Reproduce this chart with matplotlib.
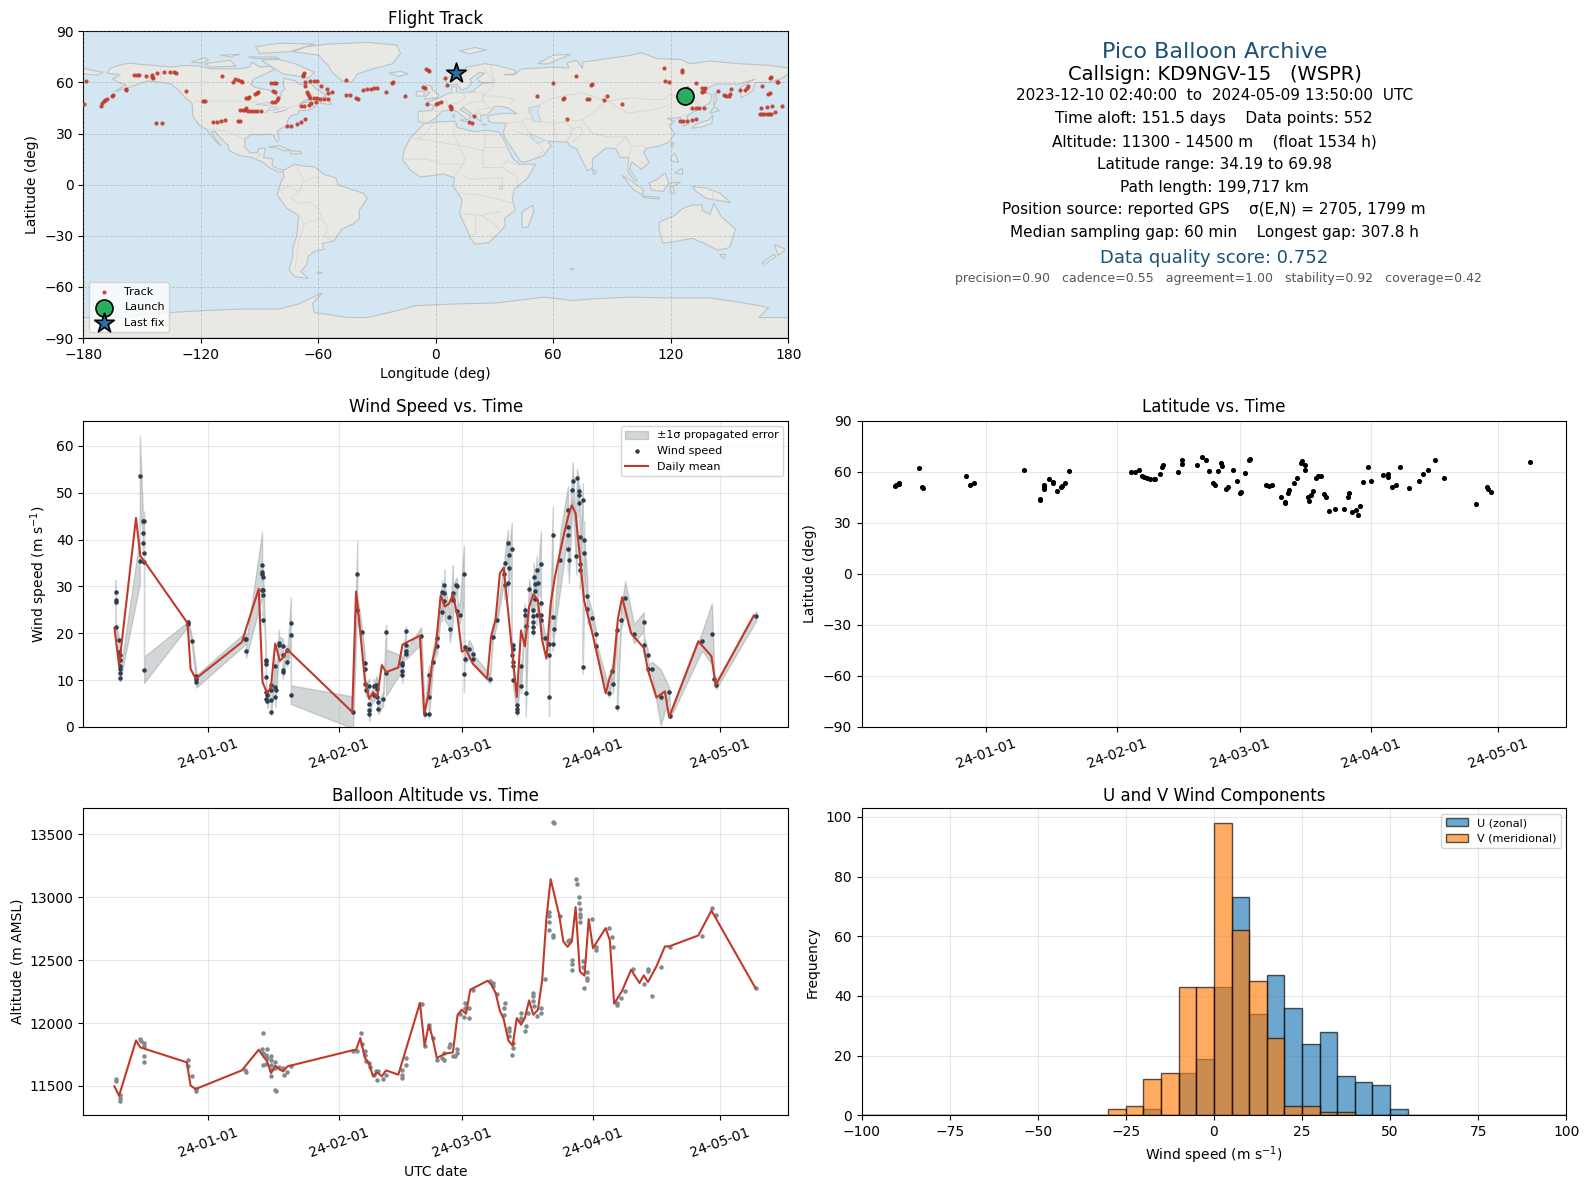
import datetime as dt

import numpy as np
import matplotlib
matplotlib.use("Agg")
import matplotlib.pyplot as plt
import matplotlib.dates as mdates


# ---- values ----
# all times are days relative to 2024-01-01

track_lon = [-178.8, -179.5, -171, -170.4, -169.6, -168.7, -168, -165, -165.4, -158, -158.3, -154, -152.8, -151.8,
             -148, -145, -144.6, -144.8, -142.4, -139, -135.6, -133.5, -132.7, -127.7, -119, -117.8, -142.9, -140,
             -113.7, -111.8, -109.6, -107.7, -100.9, -100, -109, -103.8, -102.4, -100.9, -99.7, -99, -97, -96, -95.4,
             -92.2, -91.5, -91, -100, -98.6, -97.4, -96.7, -96, -94.3, -92.9, -91.2, -89.5, -84.3, -82.4, -81.4,
             -83, -82, -83.6, -82.1, -80.9, -80.4, -67.6, -67.2, -68, -67, -66.7, -64, -62.3, -60.6, -65.7, -65.2,
             -64.8, -64, -62.3, -60.6, -59.2, -57.3, -55.1, -58.5, -55.4, -54.9, -53, -69, -67.2, -65, -63.5, -61.4,
             -75.8, -73.9, -70.8, -68.6, -66.7, -46, -45.7, -43.8, -40.6, -39.7, -37.3, -35.3, -33.2, -31.7, -30,
             -25.5, -21.8, -22.3, -15.6, -5.2, -4.2, -3.5, -6.6, -5.7, -4.5, 0.1, 1.3, 2.8, 4.7, 5.6, 7.1, 7.6, 7.8,
             19.6, 17.2, 18.4, 51.7, 59.9, 65.7, 65.2, 67.1, 71.5, 79.2, 79.9, 77.3, 78, 85.9, 87.6, 95.1, 116.6,
             125.5, 125.7, 116.8, 119.2, 124.5, 126.2, 128.4, 131, 133, 131, 133, 134.6, 137, 128.2, 132.7, 135.8,
             137.7, 135.8, 137, 144.3, 150.8, 147, 148.4, 149.8, 150.3, 155.4, 158, 159.5, 159, 166.7, 171.3, 170.6,
             174.9, 174.4, 169.6, 170.6, 165.3, 166.5, 167.7, 169, 170, 171, 166.2, 168.9, 171.8, 176.8, 173.2]
track_lat = [60.7, 47.2, 46.4, 47.8, 49, 49.9, 50.3, 52.5, 52, 56.2, 55.8, 64.2, 64.2, 64.2,
             63.8, 63.4, 62.3, 64.4, 65.4, 66, 66, 66.4, 65.8, 55.2, 49.2, 49, 36.1, 36.1,
             36.7, 37, 37.2, 37.8, 37.2, 37.2, 63.6, 60.3, 61.9, 61.3, 60.9, 60.1, 50.7, 51.1, 51.3,
             53.3, 54, 54.6, 43.7, 43.7, 43.9, 44.7, 43.3, 43.3, 43.1, 43.1, 43.1, 59.5, 59.5, 59.5,
             55, 54.6, 48.4, 48.8, 49.7, 51.1, 64.4, 65.4, 63.8, 60.3, 57.8, 60.7, 60.7, 60.7, 54.6, 53.3,
             52.1, 50.9, 50.7, 50.7, 50.5, 50.1, 50.1, 57.8, 56, 54, 54.2, 46, 46.2, 47, 47.8, 48.4,
             34.3, 34.3, 35.5, 36.8, 38.8, 61.7, 52.5, 52.9, 50.7, 50.1, 55.4, 56, 56.4, 56.6, 57,
             54.2, 60, 59.9, 51.9, 67.7, 67, 66.6, 57.2, 56.6, 47.2, 47.2, 47.8, 48.4, 62.4, 58.5, 46.4, 45.4, 44.5,
             40.2, 36.7, 36.1, 51.9, 59.5, 50.7, 50.5, 38.4, 63.6, 58.7, 58.9, 50.1, 50.5, 49.7, 51.9, 47.2, 68.3,
             67, 66.4, 60.7, 60.1, 37.2, 37.2, 37.2, 38.2, 38.6, 44.9, 44.9, 44.9, 44.9, 56.6, 59.9, 56.6,
             56.6, 54.6, 55.2, 55.2, 56, 52.7, 51.9, 52.1, 53.3, 55.4, 55.8, 58.1, 56.6, 58.1, 63, 62.3,
             60.3, 60.1, 53, 53.7, 41.7, 41.7, 41.7, 41.7, 41.7, 41.7, 44.9, 45.4, 46, 46.4, 42.5]
launch_lon, launch_lat = 127.2, 52.0
last_lon, last_lat = 10.1, 65.6

wind_day = [-21.8, -21.8, -21.8, -21.8, -21.1, -21.1, -20.9, -20.9, -20.8, -20.8, -20.8, -20.8,
            -16.1, -16.1, -15.4, -15.1, -15.4, -15.4, -15.1, -15.1, -15.1,
            -4.7, -4.7, -3.8, -2.8, -2.8, -2.8, 8.7, 9, 9,
            12.8, 12.8, 12.8, 13, 12.8, 13.1, 13, 13, 13.7, 13.7, 13.7, 13.7, 13.8, 14, 13.8, 14,
            14.9, 14.9, 14.9, 14.9, 15.9, 15.9, 16, 15.9, 16.8, 16.8, 17.7, 17.7, 17.7, 17.7, 18.7, 18.7, 19.6, 19.6, 19.6,
            34.3, 35.3, 35.3, 36.4, 37.1, 37.1, 37.1, 37.4, 38.1, 38.1, 38.1, 38.1, 39.2, 39.2, 39.8, 40, 40, 40.2, 40.2,
            41.4, 42.1, 42.1, 45.9, 45.9, 45.9, 45.9, 46.8, 46.8, 46.8, 46.8, 50.4,
            51.2, 52.2, 52.2, 52.2, 53.1, 54.1, 54.1, 55.3, 55.3, 55.9, 55.9, 55.9, 56.9, 57.2, 57.9, 57.9, 58.7, 58.9, 58.9, 59.5,
            60.5, 60.7, 60.7, 60.5, 61.7, 62.6, 62.6, 66.6, 67.3, 68.3, 69.9, 70.1, 70.1, 70.9, 71.1, 71.1, 70.9, 71.8,
            72.1, 72.1, 71.8, 72.1, 72.1, 72.1, 73, 73, 73, 74, 74, 74.9, 74.9, 75.1, 75.1,
            75.9, 76.8, 76.8, 76.8, 76.8, 76.8, 77, 77.2, 77.2, 77.2, 77.7, 78, 77.7, 78.7, 78.7, 78.7, 78.7,
            79.6, 80.6, 80.7, 80.6, 81.5, 81.5, 81.8, 81.5, 83.3, 85.1, 85.1, 85.1, 85.3, 85.1,
            86.1, 86.2, 87.2, 87.6, 87.8, 88.6, 87.6, 87.9, 87.1, 87.9, 87.9, 88.9, 88.9, 88.6, 89.7, 89.7, 90.8, 91.7, 91.7,
            94.8, 95.5, 95.7, 96.7, 96.7, 97.6, 98.6, 100.7, 103, 103, 104, 104, 105, 107, 109, 109.2, 116.8, 119.1, 119.7, 120.1, 129.6]
wind_speed = [28.8, 27, 26.7, 21.4, 18.6, 16, 15.3, 14.2, 13.1, 12.4, 11.6, 10.5,
              35.5, 53.6, 44, 44, 41.4, 39.3, 37.2, 35.3, 12.2,
              22, 22.4, 18.4, 10.8, 10.2, 9.7, 18.8, 18.8, 16.3,
              34.6, 33, 32.7, 32, 29.3, 29.3, 28.2, 22.9, 14.4, 14, 13.5, 10.7, 7.5, 6.8, 6, 5.5,
              8.9, 7.8, 5.8, 3.3, 13.1, 8.5, 8, 6.3, 18, 17.4, 17.3, 15.3, 12.2, 11.8, 16.5, 13.9, 22.2, 19.7, 6.9,
              3.1, 32.7, 25, 20.3, 13.7, 12.4, 9.2, 7.8, 8.8, 5, 3.6, 2.8, 8.8, 6.8, 8.9, 8.2, 6.4, 5.3, 3.9,
              6, 20.2, 11.6, 13.6, 13.2, 12, 11.2, 20.5, 17.6, 16.3, 15.5, 19.5,
              2.8, 11.2, 6.5, 2.8, 13.9, 19, 17.2, 28.8, 24.5, 30.2, 28.6, 26.9, 23.5, 21, 28.6, 27, 30.4, 30, 24.8, 24,
              32.7, 17, 14.6, 11.4, 16.6, 15.6, 14.6, 10.3, 19.2, 22.9, 32.7, 30.2, 35, 39.3, 36.7, 34, 30.8, 38,
              17.4, 16.7, 15.3, 13.9, 13.1, 10.1, 4.6, 3.9, 3.3, 13.1, 8.7, 24.9, 24, 21.5, 7.3,
              29.5, 24.9, 23.7, 22.4, 21.3, 20.3, 32, 30.6, 29.1, 27.4, 33.5, 30.8, 23.8, 34.8, 26.5, 24, 22.9,
              19, 17.8, 15.3, 6.3, 41, 23.5, 21, 17.8, 35.7, 46.4, 40.9, 38, 35.7, 42.6,
              50.5, 52.4, 53.1, 50.3, 49.6, 48.5, 47.8, 40.5, 36.5, 34.8, 33.5, 39.9, 37.1, 12.9, 28, 25.1, 23.2, 19.9, 17.3,
              7.3, 12, 9.2, 20.6, 4.3, 22.9, 27.6, 19.9, 22.5, 17.6, 15.3, 12.4, 12.4, 6.3, 7.5, 2.3, 18.3, 19.9, 10.3, 8.9, 23.7]
wind_sigma = [2.5, 2, 2, 1, 1, 1.2, 1, 1, 1, 1, 0.8, 0.8,
              5, 8.6, 2, 2, 1.5, 1.5, 1, 1, 2.8,
              0.5, 0.5, 1, 1.5, 1.5, 1.3, 1.3, 1.3, 1.5,
              7, 3.5, 3, 2.5, 2, 2, 1.5, 1, 1, 1, 1, 1, 1.2, 1, 1, 1.5,
              1, 1, 1, 0.8, 1.5, 1, 1.5, 2, 2.8, 2, 1.5, 1.5, 1, 1.5, 1, 1, 5.5, 2, 2,
              3.4, 7, 3, 1, 1.5, 1.2, 1.2, 1.5, 1.5, 2, 1.5, 1.5, 1.5, 1.5, 2, 2, 1.5, 1.5, 1.2,
              1.5, 1.6, 5, 1.5, 1.5, 2.5, 1.5, 1, 1, 1, 1, 1.8,
              1, 2, 3, 1, 2, 2, 2, 2.5, 2, 2, 5, 4, 2, 3, 6, 3, 1.5, 1.5, 2, 2,
              6, 1.5, 1, 4, 2, 1.5, 1, 1, 1, 1, 2, 3, 1.5, 2.8, 3, 3, 3, 5.6,
              1, 1, 1, 1, 1, 1.5, 1.5, 1, 1, 1.5, 1.5, 1.5, 1.5, 1.5, 5,
              2, 1.5, 1.5, 1.5, 1.5, 1, 3, 2, 2, 2, 3, 2.5, 2, 7, 2, 2, 1.5,
              1, 1.5, 1, 4, 6, 1.5, 1.5, 1.5, 6, 5, 4, 5, 5, 5,
              4, 4, 2, 3, 2, 3.5, 3, 3, 4, 3, 4, 4, 4, 1.5, 3, 3, 1.5, 1, 1,
              1, 1.5, 2, 1.5, 1, 2, 3.5, 2, 2, 2, 1, 1, 1.5, 6, 1, 0.5, 2, 6.5, 1, 0.8, 1]

mean_day = [-22.1, -21, -17, -16, -5, -4.7, -4.1, -2.9, 8, 12, 12.9, 14, 14.9, 15.9, 17, 17.8, 18.8, 34.1, 35, 35.5,
            37.1, 38.1, 39, 40, 41.1, 42.1, 45, 46, 50.1, 51.1, 52.1, 53, 53.9, 55, 56, 57, 57.9, 59, 60, 61, 62.6,
            66, 66.9, 68, 69, 69.9, 73, 74, 74.9, 75.9, 76.9, 78, 79, 80, 81, 82, 83.9, 85.1, 86, 86.9, 88.9, 91,
            94, 95, 95.8, 96.9, 97.9, 100, 103, 104, 106, 108, 109, 115.9, 119, 120, 129]
mean_speed = [21.2, 13.1, 44.6, 36.6, 22.4, 20.6, 12.4, 10.3, 18.1, 29.5, 9.6, 7.2, 8.5, 17.8, 14.1, 14.9, 16.5, 3.2, 28.9, 24.9,
              10, 6, 7.4, 6.4, 13.2, 11.7, 12.7, 17.6, 19.5, 2.8, 6.8, 13.9, 17.4, 28.1, 25.7, 26.3, 28.4, 23.5, 16.1, 16.5, 13.5,
              10.3, 19.2, 23.1, 32.8, 34, 6.4, 20.6, 17.2, 25.6, 28.3, 27, 18.5, 14.6, 26.3, 32, 40.2, 44.8, 47.3, 45.6, 27, 19.5,
              7.2, 10.7, 12.4, 23.1, 27.7, 20, 16.9, 12.1, 6.3, 7.6, 2.1, 18.3, 15.1, 8.9, 23.8]

lat_day = [-21.5, -21.3, -20.7, -20.7, -15.9, -15.2, -15, -4.7, -3.7, -2.9, 8.9, 12.8, 12.7, 13.7, 13.8, 13.7, 14.9, 15.8, 15.9, 16.7, 17.6, 17.9, 18.7, 19.5,
           34.3, 35.2, 36.1, 36.9, 37.4, 38, 38.7, 39.7, 40, 41.1, 41.7, 41.9, 45.4, 46.4, 46.4, 49.9, 51.1, 51.9, 52.8, 53.7, 54, 54.9, 55.5, 55.8,
           56.7, 57.3, 58.4, 59.3, 60.2, 60, 61.1, 62.1, 62.4, 66.2, 66.8, 67.7, 69.7, 70.6, 70.7, 71.3, 71.7, 72.7, 73.5, 74.4, 74.6, 75.3, 75.5,
           76.1, 76.3, 76.9, 77.4, 77.9, 78.4, 79.1, 80, 80.3, 81.1, 82.6, 84.5, 85.5, 85.7, 86.6, 87.4, 88, 88.4, 89, 90.2, 91, 93.9, 94.9, 95.1,
           95.9, 96.8, 97.8, 99.9, 102.3, 103.3, 104.4, 106.2, 108.3, 115.8, 118.4, 118.7, 119.3, 128.7]
lat_val = [51.7, 52.1, 52.7, 53.1, 62, 51.1, 50.5, 57.6, 51.9, 53.5, 60.8, 43.8, 43.6, 49.5, 51.1, 52.1, 55.5, 53.9, 53.5, 48.4, 50.7, 51.7, 53.1, 60.6,
           59.6, 59.6, 60.8, 57.6, 56.8, 56.1, 55.9, 55.9, 55.9, 58.4, 62.6, 63.7, 59.8, 66.9, 64.5, 63.7, 68.5, 66.9, 60.4, 53.1, 52.3, 60.6, 64.9, 63.4,
           49.5, 51.1, 61, 54.3, 48.2, 47.6, 59.2, 66.9, 67.5, 51.9, 51.5, 52.1, 45.2, 42.2, 41.6, 47.2, 49.1, 53.1, 56.4, 64.9, 66.5, 63.7, 60.8,
           45.2, 42.8, 46.2, 48.8, 56.1, 57.2, 57.2, 46.8, 44.8, 36.9, 38.3, 37.9, 45.2, 47.2, 36.3, 37.3, 34.3, 39.5, 53.7, 62.6, 54.7, 58, 58.6, 56.6,
           50.7, 51.9, 62.6, 50.1, 54.7, 58.6, 60.8, 66.7, 56.1, 40.7, 50.7, 49.5, 47.8, 65.5]

alt_day = [-21.8, -21.8, -20.9, -20.8, -20.8, -16.1, -15.8, -15.2, -15.1, -15.1, -15.1, -4.7, -4.7, -3.8, -2.8, -2.8, 8.7, 9,
           13, 12.8, 14, 13, 13.8, 14, 14.9, 14.9, 13.8, 13, 15.9, 14.9, 14.9, 15.9, 14.9, 16.8, 17.7, 18.7, 19.6, 18, 15.9, 16.2,
           34.3, 35.3, 36.2, 36.4, 37.1, 37.1, 37.4, 38.1, 38.2, 39.2, 39.8, 40.2, 40, 41.4, 42.1, 45.9, 45.9, 45.9, 46.8, 46.8,
           50.1, 50.5, 51.3, 52.3, 52.2, 53.1, 54.1, 55.3, 55.9, 55.9, 56.9, 57.2, 57.9, 58.5, 58.9, 58.9, 59.5, 60.5, 60.7, 60.7, 61.7, 61.7, 62.6,
           66.6, 67.3, 67.3, 68.3, 70.2, 69.9, 69.9, 71.1, 71.1, 71.1, 72.1, 72.1, 71.8, 74, 74, 74, 75.1, 74.9, 75.6,
           76.8, 76.8, 76.8, 77, 77.7, 78.7, 78.7, 79.6, 80.6, 80.6, 80.7, 80.6, 81.5, 81.5, 81.8, 81.5, 83.3, 85.1, 85.3, 86.1, 86.1, 86.1,
           87.1, 87.2, 87.7, 87.7, 87.9, 87.9, 87.9, 87.9, 88.6, 88.6, 88.9, 89.7, 89.7, 89.7, 90.8, 91.7, 91.7, 94.8, 95.5, 95.7,
           96.7, 96.7, 97.6, 98.6, 100.5, 103, 104, 104, 105, 107.1, 109.2, 116.8, 119.1, 120.1, 129.6]
alt_val = [11556, 11542, 11431, 11405, 11378, 11873, 11855, 11841, 11820, 11738, 11691, 11706, 11661, 11582, 11476, 11460, 11624, 11614,
           11921, 11794, 11794, 11762, 11743, 11722, 11735, 11709, 11677, 11667, 11688, 11669, 11630, 11640, 11579, 11651, 11640, 11608, 11661, 11590, 11471, 11460,
           11775, 11775, 11921, 11833, 11775, 11743, 11696, 11683, 11648, 11590, 11616, 11622, 11550, 11556, 11590, 11630, 11587, 11561, 11722, 11664,
           12154, 12154, 11818, 11987, 11960, 11881, 11709, 11722, 11762, 11709, 11810, 11833, 11741, 11735, 11794, 11762, 12074, 12048, 12159, 12119, 12119, 12042, 12265,
           12331, 12318, 12291, 12230, 12159, 12119, 12066, 11963, 11934, 11894, 11841, 11802, 11746, 12079, 12040, 12021, 11974, 11934, 12079,
           12238, 12212, 12172, 12132, 12053, 12119, 12079, 12352, 12881, 12847, 12799, 12738, 12701, 12683, 13588, 13598, 12849, 12648, 12661, 12500, 12471, 12421,
           13143, 13103, 13000, 12953, 12905, 12868, 12841, 12799, 12490, 12445, 12278, 12405, 12357, 12339, 12826, 12603, 12580, 12754, 12683, 12603,
           12159, 12146, 12199, 12257, 12429, 12307, 12429, 12410, 12214, 12445, 12601, 12691, 12913, 12860, 12278]

alt_mean_day = [-22.1, -21, -17, -16, -5, -4.1, -2.9, 8, 12, 12.9, 14, 14.9, 15.9, 17, 17.8, 18.8, 34.1, 35, 36, 37.1, 38.1, 39, 40, 41.1, 42.1, 45,
                50.1, 51.2, 52.2, 53.1, 54.1, 56, 57.9, 59, 60, 61, 62, 66.1, 67, 68, 69, 69.9, 71, 72, 73, 74, 74.9, 75.9, 76.9, 78, 79, 80, 81,
                83, 84, 85, 86, 86.9, 87.9, 89, 90, 91, 94, 95, 96, 97.9, 100, 102, 103, 104, 106, 108, 109, 115.9, 119, 129.4]
alt_mean = [11497, 11423, 11862, 11807, 11688, 11503, 11476, 11624, 11788, 11743, 11696, 11603, 11661, 11630, 11616, 11656, 11783, 11788, 11881, 11722, 11677, 11577, 11608, 11577, 11624, 11590,
            12159, 11820, 11987, 11881, 11722, 11757, 11767, 12066, 12106, 12074, 12265, 12336, 12304, 12238, 12098, 12032, 11862, 11820, 12040, 11987, 12040, 12180, 12066, 12106, 12344, 12833, 13143,
            12860, 12648, 12606, 12648, 12921, 12410, 12376, 12826, 12595, 12754, 12656, 12154, 12257, 12423, 12318, 12379, 12326, 12450, 12609, 12609, 12696, 12894, 12278]

bin_edges = np.arange(-100, 101, 5)
u_counts = [0] * 16 + [2, 0, 14, 19, 43, 73, 34, 47, 36, 24, 28, 13, 11, 10, 2] + [0] * 9
v_counts = [0] * 14 + [2, 3, 12, 14, 43, 43, 98, 62, 45, 26, 3, 3, 1, 1] + [0] * 12

info_lines = ["Pico Balloon Archive",
              "Callsign: KD9NGV-15   (WSPR)",
              "2023-12-10 02:40:00  to  2024-05-09 13:50:00  UTC",
              "Time aloft: 151.5 days    Data points: 552",
              "Altitude: 11300 - 14500 m    (float 1534 h)",
              "Latitude range: 34.19 to 69.98",
              "Path length: 199,717 km",
              "Position source: reported GPS    σ(E,N) = 2705, 1799 m",
              "Median sampling gap: 60 min    Longest gap: 307.8 h",
              "Data quality score: 0.752",
              "precision=0.90   cadence=0.55   agreement=1.00   stability=0.92   coverage=0.42"]

# rough coastlines, lon/lat
land_polys = [
    [(-168,65.5),(-166,68.3),(-162,70),(-156.5,71.3),(-150,70.5),(-141,69.7),(-135,69),(-128,70),(-120,69.5),(-115,68),(-108,68),(-100,68),(-95,69),(-94,72),(-90,69),(-85,69.5),(-82,68),(-87,65),(-93,62),(-94.5,59),(-92,57),(-85,55.5),(-82,53),(-80,51.2),(-79,52),(-79,54.5),(-77,56),(-78,59),(-77.5,62.4),(-72,61),(-70,59),(-66,58.5),(-64.5,60.3),(-61,56),(-56,52.5),(-60,50),(-66,50),(-70,47),(-65,49),(-64,46.5),(-61,46),(-65,43.7),(-70,43.5),(-70,41.7),(-74,40.5),(-76,37),(-75.5,35.3),(-81,31.5),(-80,26.5),(-81,25),(-83,29),(-85,29.7),(-90,29.2),(-94,29.5),(-97.5,27),(-97.7,22.5),(-95,18.7),(-91,18.7),(-90.5,21),(-87,21.5),(-88,16),(-83.3,15),(-83.6,11),(-80,9),(-77.5,8.7),(-78,7.5),(-80.5,7.5),(-85,10),(-88,13),(-94,16),(-100,17),(-105.5,20),(-106,23),(-110,27.5),(-113,31.5),(-114.7,31),(-112,26),(-110,23),(-112,25),(-115,29),(-117,32.5),(-120.5,34.5),(-124,40),(-124.5,48),(-128,51),(-131,55),(-135,59),(-140,60),(-147,61),(-152,59),(-158,56.5),(-164,54.7),(-158,58.5),(-162,60),(-165,62),(-161,64.5)],
    [(-77.5,8.7),(-72,12),(-68,11),(-62,10.5),(-57,6),(-51,4),(-50,0),(-44,-2.5),(-37,-5),(-35,-8),(-39,-15),(-39,-20),(-42,-23),(-48,-26),(-52,-33),(-58,-34.5),(-57,-38),(-62,-39),(-65,-42),(-66,-47),(-69,-51),(-65,-55),(-72,-54),(-75,-50),(-73,-42),(-73,-37),(-71,-30),(-70,-18),(-76,-14),(-81,-6),(-80,-2),(-79,2),(-77.5,4),(-78,7.5)],
    [(-73,78),(-66,81),(-55,82.5),(-35,83.5),(-20,82),(-18,77),(-22,71),(-32,68),(-40,65),(-43,60),(-48,61),(-53,66),(-55,70),(-60,76)],
    [(-6,35.8),(2,36.8),(10,37.3),(11,33.5),(20,31),(25,32),(32,31),(34,28),(37,21),(39.5,15),(43,12),(51,12),(47,4),(40,-3),(39,-8),(40.5,-15),(35,-20),(35.5,-24),(32.5,-28),(27,-34),(20,-35),(18,-32),(14.5,-23),(12,-17),(13.5,-9),(9,-1),(9.5,4),(4,6.3),(-4,5),(-8,4.5),(-13,8.5),(-17,14.7),(-16,21),(-13,27.5),(-9,32)],
    [(-9,37),(-9,43),(-2,43.5),(-1,46),(-4.5,48.5),(2,51),(6,53.5),(8.5,54),(8,57),(10.5,57.5),(10.5,54),(14,54),(19,54.5),(21,57),(24,59.5),(30,60),(23,60),(21,62),(25,65.5),(22,65.8),(17.5,62),(18.5,60),(16,56.5),(13,55.5),(11,59),(6,58),(5,62),(12,66),(16,69),(25,71),(31,70),(41,67),(40,65),(35,64.5),(40,64.5),(44,68),(54,68.5),(60,69),(68,68.5),(67,71.5),(72,73),(75,68),(75,72),(85,73.5),(100,76),(105,77.5),(113,74),(125,73.5),(130,71),(140,72.5),(155,71),(170,70),(180,68.5),(180,65),(177,62.5),(170,60),(163,60),(162,55),(156,51),(155.5,57),(163,62),(155,59),(143,59),(135,54.5),(141,53),(140,48),(132,43),(128,40),(129.5,36),(126.5,34.5),(126,37),(125,39.5),(121,39),(118,39),(122,37),(119,35),(122,30),(119,25),(114,22.5),(108,21.5),(106,19),(109,13),(105,9),(100,13.5),(99,9),(103,2),(101,3),(98,8),(98.5,16),(94,16),(92,21),(87,21.5),(80,15),(80,10),(77.5,8),(73,18),(72,21),(69,22.5),(67,25),(57,25.5),(59,23),(55,17),(45,13),(43,14),(39,21),(35,28),(34.5,31),(36,36),(30,36.3),(27,37),(26.5,40),(29,41),(35,42),(41.5,41.5),(37,45),(33,46),(30,46),(28,43),(26,41),(23,40.5),(23,37),(20,40),(14,45.5),(12.5,44),(18,40),(16,38),(12,42),(8.5,44.3),(3,43),(0,39),(-5,36)],
    [(114,-22),(122,-18),(126,-14),(131,-12),(136,-12),(136,-15),(140,-17.5),(142,-11),(146,-19),(153,-26),(150,-37),(144,-38.5),(138,-35),(131,-31.5),(124,-33),(116,-34.5),(114,-26)],
    [(-180,-78),(-160,-78),(-150,-76),(-120,-74),(-100,-73),(-80,-73),(-70,-70),(-58,-63.5),(-63,-70),(-62,-75),(-45,-78),(-35,-78),(-20,-74),(-10,-71),(10,-70),(30,-69.5),(45,-67.5),(55,-66),(70,-68),(80,-67),(100,-66),(120,-66.5),(140,-66.5),(155,-69),(170,-72),(165,-78),(180,-78),(180,-90),(-180,-90)],
    [(-80,73.5),(-72,71),(-62,66),(-65,62.5),(-72,64),(-78,65),(-85,70),(-89,73)],
    [(-118,71),(-105,73),(-102,69.5),(-115,69)],
    [(-90,77),(-75,78),(-62,82.5),(-80,83),(-92,81)],
    [(-96,75),(-82,75),(-80,74),(-92,74)],
    [(-125,72),(-118,74.5),(-116,73),(-120,71.5)],
    [(-110,76),(-100,76.5),(-105,75)],
    [(-59,47.7),(-53,47),(-56,51.5)],
    [(-24,65.5),(-18,66.5),(-14,65),(-19,63.5)],
    [(-5.5,50),(1,51.3),(1.5,52.8),(-2,56),(-2,57.7),(-5,58.6),(-6,56),(-3,54),(-5,52)],
    [(-10,52),(-6,52),(-6,55),(-10,54.5)],
    [(12,78.5),(20,80.5),(26,79),(17,76.8)],
    [(52,71),(57,70.8),(69,76.5),(60,76)],
    [(130.5,33),(136,34),(141,36),(141.5,41),(139.5,38),(133,35.5)],
    [(140,42),(145,43.5),(142,45.5)],
    [(142,46),(143.5,50),(143,54),(142,52)],
    [(120,23),(121.5,25),(121,22)],
    [(120,16),(122,18.5),(124,13),(120,14)],
    [(122,7),(126,9.5),(126,6)],
    [(109,1),(113,3),(117,7),(119,1),(116,-4),(110,-3)],
    [(95,5.5),(100,2),(106,-3),(105.5,-6),(101,-3)],
    [(105,-6.5),(114,-7.5),(114,-8.5),(106,-7.5)],
    [(119.5,-5),(120,1),(125,1.5),(121,-1),(122,-5)],
    [(131,-1),(138,-2),(145,-5),(150.5,-10.5),(143,-9),(138,-8),(133,-4)],
    [(44,-25),(44,-16),(49.5,-12),(50,-16),(47,-25)],
    [(173,-35),(178.5,-38),(175,-41.5),(174,-39)],
    [(172.5,-41),(174,-42),(168,-46.7),(166.5,-46)],
    [(-85,22),(-80,23),(-74,20),(-78,20),(-82,22)],
    [(-74,19.8),(-69,19.5),(-68.5,18.3),(-74,18)],
    [(80,9.5),(82,7),(80.5,6)],
    [(145,-41),(148,-41),(147,-43.5)],
    [(-180,65),(-180,68.5),(-175,67),(-170,66),(-173,64.3)],
    [(-61,-51.5),(-58,-51.5),(-59,-52.3)],
    [(12.5,38),(15.5,38),(15,36.8)],
    [(8.3,41),(9.7,41),(9.5,39)],
    [(23.5,35.5),(26,35.2),(24,35)],
    [(68,-49),(70,-49),(70,-50)],
]
water_polys = [
    [(47,45),(53,46.5),(52,42),(54,37),(50,37),(49,40)],
    [(-92,47),(-85,48.5),(-85,46.5)],
    [(-87,42),(-84,46),(-80,44.5),(-83,43.5),(-86,43.5)],
    [(-83,42),(-76,44),(-79,43)],
    [(48,30),(56,26),(52,24),(50,26.5)],
    [(32,-2),(34,0),(34,-3)],
]
border_lines = [
    [(-141,69.7),(-141,60)],
    [(-123,49),(-95,49),(-84,46),(-75,45),(-69,47),(-67,45)],
    [(-117,32.5),(-106,31.5),(-97.5,26)],
    [(-92,15),(-89,18),(-91,18)],
    [(-72,12),(-67,2),(-70,-4),(-74,-8),(-70,-11),(-65,-10),(-60,-14),(-58,-20),(-55,-26),(-57,-30),(-53,-33)],
    [(-67,2),(-60,5),(-60,1)],
    [(-70,-18),(-67,-23),(-70,-33),(-72,-50)],
    [(-65,-22),(-58,-20)],
    [(-80,-3),(-75,-1),(-70,-4)],
    [(-9,27),(-5,30),(-2,35)],
    [(-13,27),(-9,27),(12,23),(25,20),(25,32)],
    [(10,37),(9,30),(12,23),(15,15),(14,12),(9,4)],
    [(-17,15),(-5,15),(4,12),(14,12)],
    [(25,22),(37,22)],
    [(24,20),(24,10),(34,10),(36,14),(43,11)],
    [(34,10),(42,4),(41,-2)],
    [(14,5),(18,3),(30,4),(34,4),(34,-1)],
    [(12,-5),(22,-6),(30,-8),(40,-11)],
    [(12,-17),(23,-18),(33,-16)],
    [(20,-18),(20,-29),(17,-29)],
    [(23,-18),(29,-22),(32,-26)],
    [(28,70),(30,60),(28,56),(24,52),(32,52),(40,50),(38,47)],
    [(5,50),(6,47),(7,44)],
    [(8,54),(14,54),(15,51),(12,48),(7,47)],
    [(-2,43.5),(3,42.5)],
    [(-7,42),(-7,37)],
    [(14,54),(24,54),(24,49),(17,48),(14,46)],
    [(24,49),(28,45),(22,44),(20,42),(26,41)],
    [(24,69),(30,60)],
    [(12,60),(18,69)],
    [(47,42),(50,45),(60,51),(75,54),(87,49),(100,51),(108,50),(116,50),(120,53),(128,50),(135,48),(131,43)],
    [(87,49),(80,42),(75,38),(80,30),(88,28),(97,28),(100,22),(105,23),(108,21.5)],
    [(75,38),(66,37),(60,36),(54,37)],
    [(60,36),(61,30),(62,25)],
    [(66,37),(70,33),(67,25)],
    [(70,33),(74,34),(75,30),(70,25)],
    [(36,36),(44,37),(48,30)],
    [(44,37),(46,39),(49,38)],
    [(39,32),(47,29),(52,24),(55,20),(52,17)],
    [(97,28),(92,22)],
    [(100,22),(98,16)],
    [(103,14),(107,12)],
    [(88,49),(98,42),(111,44),(120,47)],
    [(125,40),(130,42)],
    [(141,-3),(141,-9)],
]

colors_ocean = "#d4e6f1"
colors_land = "#e8e8e4"
red = "#c0392b"


def days_to_dates(days):
    base = dt.datetime(2024, 1, 1)
    return [base + dt.timedelta(days=float(d)) for d in days]


def place_axes(fig, left, top, right, bottom):
    # pixel box of the target figure to figure fractions
    w, h = fig.get_size_inches() * fig.dpi
    return fig.add_axes([left / w, 1 - bottom / h, (right - left) / w, (bottom - top) / h])


def format_time_axis(ax):
    ax.set_xlim(dt.datetime(2023, 12, 2, 13), dt.datetime(2024, 5, 17, 4))
    ax.xaxis.set_major_locator(mdates.MonthLocator())
    ax.xaxis.set_major_formatter(mdates.DateFormatter("%y-%m-%d"))
    ax.tick_params(axis="x", labelrotation=20)
    ax.grid(True, alpha=0.3)


def plot_map(ax):
    ax.set_facecolor(colors_ocean)
    for poly in land_polys:
        ax.fill(*zip(*poly), facecolor=colors_land, edgecolor="#bcc3c6", linewidth=0.8, zorder=1)
    for poly in water_polys:
        ax.fill(*zip(*poly), facecolor=colors_ocean, edgecolor="#bcc3c6", linewidth=0.5, zorder=1.1)
    for line in border_lines:
        ax.plot(*zip(*line), color="#d6d6d1", linewidth=0.6, zorder=1.2)

    ax.scatter(track_lon, track_lat, s=9, color=red, alpha=0.9, linewidth=0, zorder=3, label="Track")
    ax.scatter(launch_lon, launch_lat, s=150, color="#27ae60", edgecolor="black", linewidth=1.2, zorder=4, label="Launch")
    ax.scatter(last_lon, last_lat, s=220, marker="*", color="#2471a3", edgecolor="black", linewidth=1.2, zorder=5, label="Last fix")

    ax.set_xlim(-180, 180)
    ax.set_ylim(-90, 90)
    ax.set_xticks(np.arange(-180, 181, 60))
    ax.set_yticks(np.arange(-90, 91, 30))
    ax.grid(True, alpha=0.35, color="#808080", linewidth=0.6, linestyle="--", zorder=2)
    ax.set_axisbelow(False)
    ax.set_title("Flight Track", fontsize=12, pad=5)
    ax.set_xlabel("Longitude (deg)")
    ax.set_ylabel("Latitude (deg)")
    ax.legend(loc="lower left", fontsize=8)


def plot_info(fig):
    rows = [(51.6, 1214.5, 16, "#1a5276"), (74.2, 1214.5, 14, "black"), (95.2, 1214.5, 11, "black"),
            (118.6, 1214, 11, "black"), (142, 1214.5, 11, "black"), (164.3, 1214.5, 11, "black"),
            (187.6, 1214.5, 11, "black"), (209.9, 1213.5, 11, "black"), (232.6, 1214.5, 11, "black"),
            (257.6, 1214.5, 13, "#1a5276"), (278.8, 1218.5, 9, "#555555")]
    w, h = fig.get_size_inches() * fig.dpi
    for line, (ypix, xpix, size, color) in zip(info_lines, rows):
        fig.text(xpix / w, 1 - ypix / h, line, ha="center", va="center", fontsize=size, color=color)


def plot_wind(ax):
    order = np.argsort(wind_day, kind="stable")
    days = np.array(wind_day)[order]
    speed = np.array(wind_speed)[order]
    sigma = np.array(wind_sigma)[order]
    times = days_to_dates(days)

    ax.fill_between(times, speed - sigma, speed + sigma, color="#7f8c8d", alpha=0.35, label="±1σ propagated error")
    ax.scatter(times, speed, s=5, color="#2c3e50", zorder=3, label="Wind speed")
    ax.plot(days_to_dates(mean_day), mean_speed, color=red, linewidth=1.5, zorder=4, label="Daily mean")

    format_time_axis(ax)
    ax.set_ylim(0, 65.4)
    ax.set_yticks(np.arange(0, 61, 10))
    ax.set_title("Wind Speed vs. Time", fontsize=12)
    ax.set_ylabel("Wind speed (m s$^{-1}$)")
    ax.legend(loc="upper right", fontsize=8)


def plot_latitude(ax):
    ax.scatter(days_to_dates(lat_day), lat_val, s=7, color="black", zorder=3)
    format_time_axis(ax)
    ax.set_ylim(-90, 90)
    ax.set_yticks(np.arange(-90, 91, 30))
    ax.set_title("Latitude vs. Time", fontsize=12)
    ax.set_ylabel("Latitude (deg)")


def plot_altitude(ax):
    ax.scatter(days_to_dates(alt_day), alt_val, s=5, color="#7f8c8d", zorder=3)
    ax.plot(days_to_dates(alt_mean_day), alt_mean, color=red, linewidth=1.5, zorder=4)
    format_time_axis(ax)
    ax.set_ylim(11268, 13707)
    ax.set_yticks(np.arange(11500, 13501, 500))
    ax.set_title("Balloon Altitude vs. Time", fontsize=12, pad=5)
    ax.set_xlabel("UTC date")
    ax.set_ylabel("Altitude (m AMSL)")


def plot_hist(ax):
    left = bin_edges[:-1]
    ax.bar(left, u_counts, width=5, align="edge", color="#1f77b4", alpha=0.65, edgecolor="black", label="U (zonal)")
    ax.bar(left, v_counts, width=5, align="edge", color="#ff7f0e", alpha=0.65, edgecolor="black", label="V (meridional)")
    ax.set_xlim(-100, 100)
    ax.set_ylim(0, 102.9)
    ax.grid(True, alpha=0.3)
    ax.set_axisbelow(True)
    ax.set_title("U and V Wind Components", fontsize=12, pad=5)
    ax.set_xlabel("Wind speed (m s$^{-1}$)")
    ax.set_ylabel("Frequency")
    ax.legend(loc="upper right", fontsize=8)


def main():
    fig = plt.figure(figsize=(15.9, 11.89), dpi=100)

    plot_map(place_axes(fig, 83.3, 31.3, 788.3, 338))
    plot_info(fig)
    plot_wind(place_axes(fig, 83.3, 420.5, 788.3, 727))
    plot_latitude(place_axes(fig, 861.5, 420.5, 1566.3, 727))
    plot_altitude(place_axes(fig, 83.3, 808.2, 788.3, 1115.2))
    plot_hist(place_axes(fig, 861.5, 808.2, 1566.3, 1115.2))

    fig.savefig("out.png", dpi=100)


if __name__ == "__main__":
    main()
